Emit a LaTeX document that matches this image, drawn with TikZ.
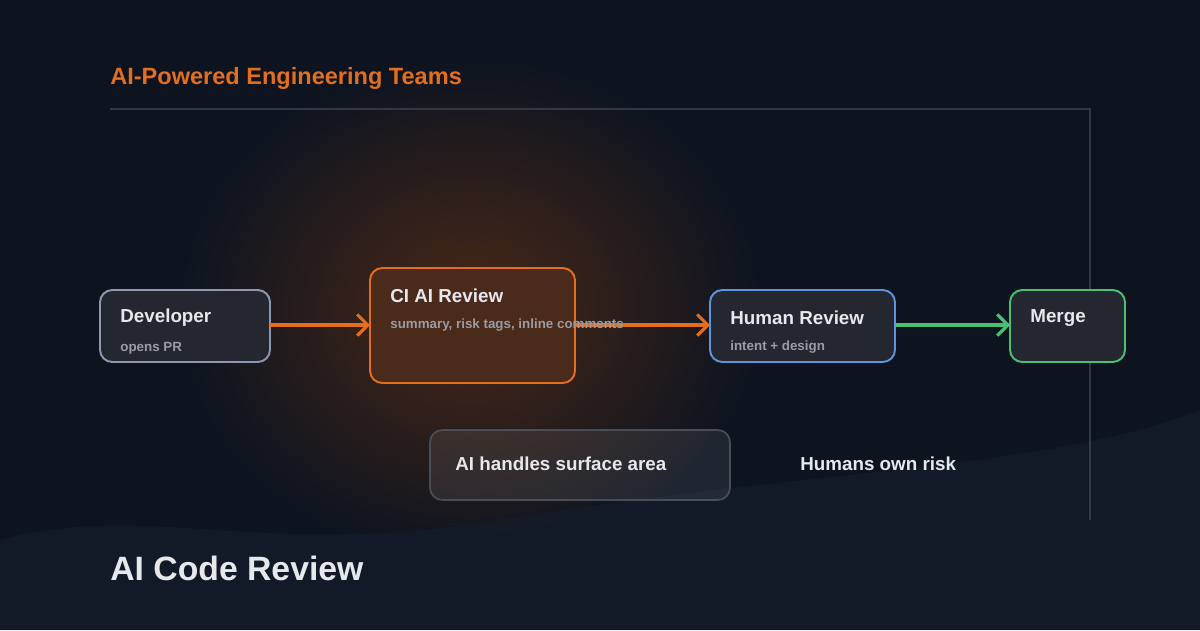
\documentclass[tikz,border=0pt]{standalone}
\usepackage{fontspec}
\setmainfont{Liberation Sans}
\usetikzlibrary{positioning,arrows.meta}
\definecolor{bgdark}{HTML}{0D1420}
\definecolor{bgwave}{HTML}{141C29}
\definecolor{glow}{HTML}{4A2816}
\definecolor{orangeline}{HTML}{E36F1E}
\definecolor{orangefill}{HTML}{4A2A1B}
\definecolor{greyline}{HTML}{8E98AE}
\definecolor{blueline}{HTML}{5E93DE}
\definecolor{greenline}{HTML}{48C172}
\definecolor{boxfill}{HTML}{24272F}
\definecolor{labeltext}{HTML}{E6E8EC}
\definecolor{subtext}{HTML}{9A9CA2}
\definecolor{frameline}{HTML}{323843}
\definecolor{noteline}{HTML}{4A4D55}
\tikzset{
  flowbox/.style={draw, line width=1.1pt, rounded corners=7pt, fill=boxfill},
  boxtitle/.style={anchor=west, text=labeltext, font=\bfseries\fontsize{10.7}{12}\selectfont, inner sep=0pt},
  boxsub/.style={anchor=west, text=subtext, font=\bfseries\fontsize{7.6}{8}\selectfont, inner sep=0pt},
  flowarrow/.style={line width=1.8pt, -{Straight Barb[length=6pt,width=12pt]}},
}
\begin{document}
\begin{tikzpicture}[x=0.02cm,y=-0.02cm]
  % background
  \fill[bgdark] (0,0) rectangle (1200,630);
  \fill[inner color=glow, outer color=bgdark] (180,60) rectangle (760,560);
  \fill[bgwave, opacity=0.8] (0,540) .. controls (150,500) and (260,560) .. (500,520)
    .. controls (800,470) and (1050,470) .. (1200,410) -- (1200,630) -- (0,630) -- cycle;
  \useasboundingbox (0,0) rectangle (1200,630);
  % frame
  \draw[frameline, line width=0.8pt] (110,109) -- (1090,109) -- (1090,520);
  \node[anchor=west, text=orangeline, font=\bfseries\fontsize{13.4}{15}\selectfont, inner sep=0pt] (heading) at (110,78) {AI-Powered Engineering Teams};
  % boxes
  \draw[flowbox, draw=greyline] (100,290) rectangle (270,362);
  \draw[flowbox, draw=orangeline, fill=orangefill] (370,268) rectangle (575,383);
  \draw[flowbox, draw=blueline] (710,290) rectangle (895,362);
  \draw[flowbox, draw=greenline] (1010,290) rectangle (1125,362);
  \coordinate (devout) at (270,325);
  \coordinate (ciin) at (370,325);
  \coordinate (ciout) at (575,325);
  \coordinate (humin) at (710,325);
  \coordinate (humout) at (895,325);
  \coordinate (mergein) at (1010,325);
  \draw[flowarrow, orangeline] (devout) -- (ciin);
  \draw[flowarrow, orangeline] (ciout) -- (humin);
  \draw[flowarrow, greenline] (humout) -- (mergein);
  \node[boxtitle] (dev) at (120,318) {Developer};
  \node[boxsub] (devsub) at (120,348) {opens PR};
  \node[boxtitle] (ci) at (390,296) {CI AI Review};
  \node[boxsub] (cisub) at (390,325) {summary, risk tags, inline comments};
  \node[boxtitle] (human) at (730,318) {Human Review};
  \node[boxsub] (humansub) at (730,347) {intent + design};
  \node[boxtitle] (merge) at (1030,318) {Merge};
  % bottom notes
  \draw[flowbox, draw=noteline, fill=white, fill opacity=0.08, line width=1pt] (430,430) rectangle (730,500);
  \node[boxtitle] (surface) at (455,464) {AI handles surface area};
  \node[boxtitle] (risk) at (800,464) {Humans own risk};
  \node[anchor=west, text=labeltext, font=\bfseries\fontsize{19.2}{23}\selectfont, inner sep=0pt] (title) at (110,568) {AI Code Review};
\end{tikzpicture}
\end{document}
